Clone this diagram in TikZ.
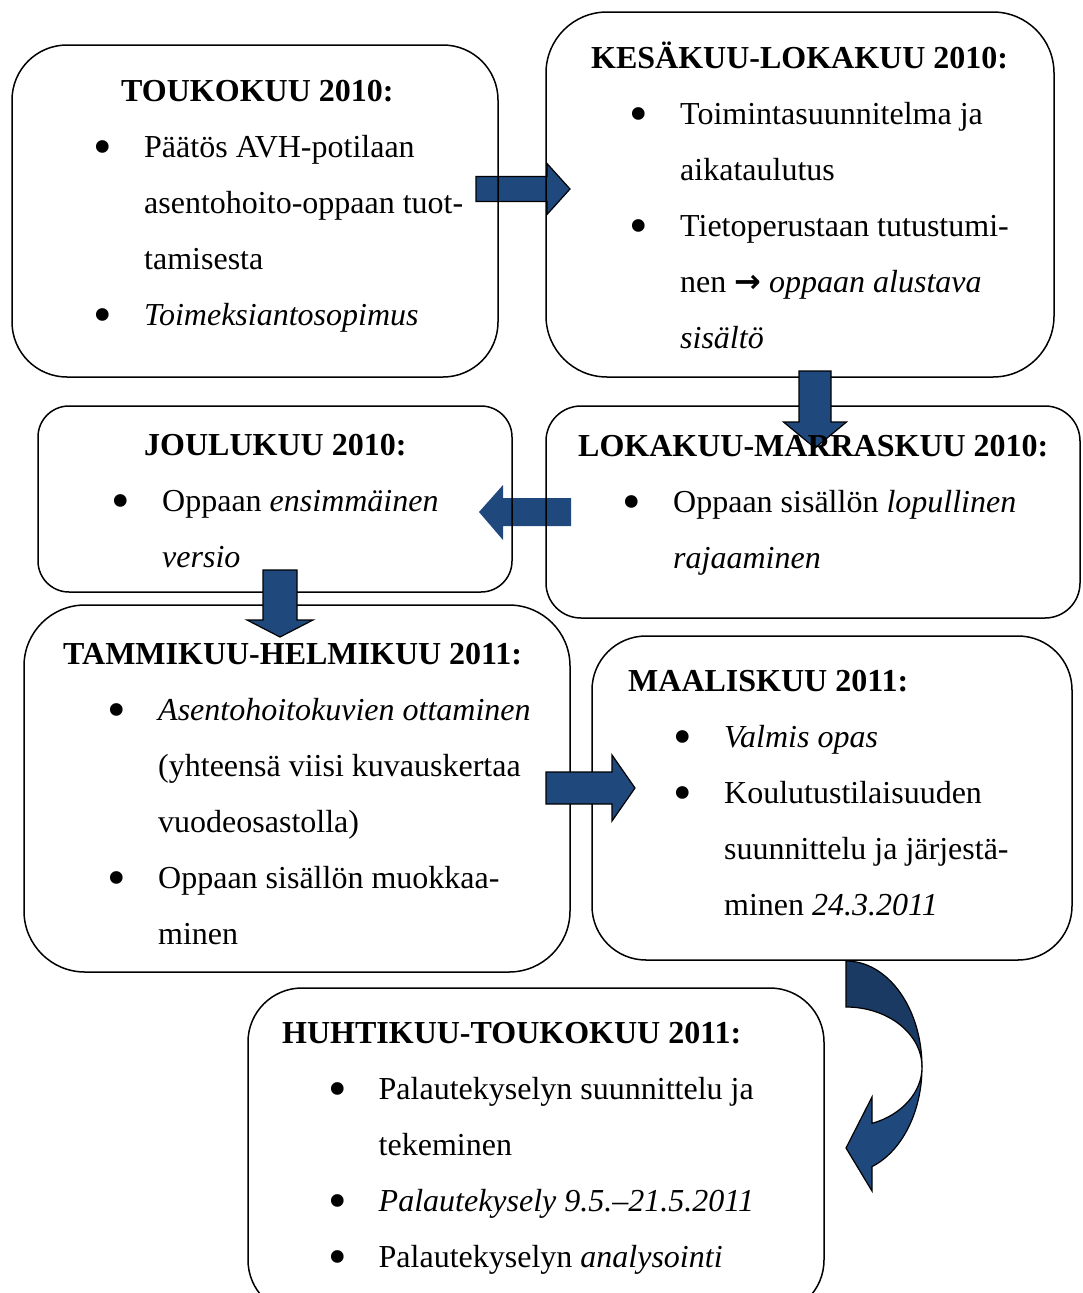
\documentclass[tikz,border=0pt]{standalone}
\usepackage{fontspec}
\setmainfont{Liberation Serif}
\newfontfamily\arrowfont{DejaVu Sans}
\usepackage{tikz}
\usetikzlibrary{calc}
\definecolor{blockblue}{HTML}{1F497D}
\definecolor{blockdark}{HTML}{1B3A63}
\newlength{\lineind}
\newcommand{\bul}{\hspace*{\lineind}\llap{\raisebox{-6.8pt}{\fontsize{53}{53}\selectfont\textbullet}\hspace{31.8pt}}}
\newcommand{\cnt}{\hspace*{\lineind}}

\begin{document}
\begin{tikzpicture}[x=1pt,y=1pt,
        box/.style={draw=black,line width=1.5pt,outer sep=0pt},
        txt/.style={anchor=north west,align=left,font=\fontsize{32}{56}\selectfont},
        ind/.code={\setlength{\lineind}{#1}},
        blockarrow/.style={draw=black,line width=1.2pt,fill=blockblue,line join=miter}]
                \tikzstyle{every node}+=[inner sep=0pt]
                \useasboundingbox (0,0) rectangle (1082,-1293);
                \draw [blockarrow] (476,-176.5) -- (547,-176.5) -- (547,-163.5) -- (570,-189) -- (547,-214.5) -- (547,-201.5) -- (476,-201.5) -- cycle;
                \fill [blockblue] (571,-498) -- (503,-498) -- (503,-485) -- (479,-512) -- (503,-540) -- (503,-526) -- (571,-526) -- cycle;
                \node (toukokuu) [box, minimum width=486pt, minimum height=332pt, rounded corners=55pt] at (255,-211) {};
                \node (kesakuu) [box, minimum width=508pt, minimum height=365pt, rounded corners=61pt] at (800,-194.5) {};
                \node (joulukuu) [box, minimum width=474pt, minimum height=186pt, rounded corners=31pt] at (275,-499) {};
                \node (lokakuu) [box, minimum width=534pt, minimum height=212pt, rounded corners=35pt] at (813,-512) {};
                \node (tammikuu) [box, minimum width=546pt, minimum height=367pt, rounded corners=61pt] at (297,-788.5) {};
                \node (maaliskuu) [box, minimum width=480pt, minimum height=324pt, rounded corners=54pt] at (832,-798) {};
                \node (huhtikuu) [box, minimum width=576pt, minimum height=326pt, rounded corners=54pt] at (536,-1151) {};
                \draw [blockarrow] (799,-371) -- (831,-371) -- (831,-422) -- (846.5,-422) -- (815,-448) -- (783.5,-422) -- (799,-422) -- cycle;
                \draw [blockarrow] (263,-570) -- (297,-570) -- (297,-620) -- (313,-620) -- (280,-637) -- (247,-620) -- (263,-620) -- cycle;
                \draw [blockarrow] (546,-772) -- (612,-772) -- (612,-755) -- (635,-788) -- (612,-821) -- (612,-804) -- (546,-804) -- cycle;
                \draw [blockarrow, fill=blockdark] (846,-961) arc[start angle=90, end angle=0, x radius=76, y radius=106] arc[start angle=0, end angle=90, x radius=76, y radius=60] -- cycle;
                \draw [blockarrow] (922,-1067) arc[start angle=0, end angle=-70, x radius=76, y radius=106] -- (872,-1191) -- (846,-1148) -- (872,-1097) -- (872,-1123.4) arc[start angle=-70, end angle=0, x radius=76, y radius=60] -- cycle;
                \node (toukokuutxt) [txt, ind=23pt] at (121,-62.5) {\strut\textbf{TOUKOKUU 2010:}\\
                    \bul Päätös AVH-potilaan\\
                    \cnt asentohoito-oppaan tuot-\\
                    \cnt tamisesta\\
                    \bul\textit{Toimeksiantosopimus}};
                \node (kesakuutxt) [txt, ind=89pt] at (591,-29.1) {\strut\textbf{KESÄKUU-LOKAKUU 2010:}\\
                    \bul Toimintasuunnitelma ja\\
                    \cnt aikataulutus\\
                    \bul Tietoperustaan tutustumi-\\
                    \cnt nen {\arrowfont\bfseries →} \textit{oppaan alustava}\\
                    \cnt\textit{sisältö}};
                \node (joulukuutxt) [txt, ind=18pt] at (144,-416.5) {\strut\textbf{JOULUKUU 2010:}\\
                    \bul Oppaan \textit{ensimmäinen}\\
                    \cnt\textit{versio}};
                \node (lokakuutxt) [txt, ind=95pt] at (578,-416.8) {\strut\textbf{LOKAKUU-MARRASKUU 2010:}\\
                    \bul Oppaan sisällön \textit{lopullinen}\\
                    \cnt\textit{rajaaminen}};
                \node (tammikuutxt) [txt, ind=95pt] at (63,-624.8) {\strut\textbf{TAMMIKUU-HELMIKUU 2011:}\\
                    \bul\textit{Asentohoitokuvien ottaminen}\\
                    \cnt (yhteensä viisi kuvauskertaa\\
                    \cnt vuodeosastolla)\\
                    \bul Oppaan sisällön muokkaa-\\
                    \cnt minen};
                \node (maaliskuutxt) [txt, ind=96pt] at (628,-652.5) {\strut\textbf{MAALISKUU 2011:}\\
                    \bul\textit{Valmis opas}\\
                    \bul Koulutustilaisuuden\\
                    \cnt suunnittelu ja järjestä-\\
                    \cnt minen \textit{24.3.2011}};
                \node (huhtikuutxt) [txt, ind=96.5pt] at (282,-1004.1) {\strut\textbf{HUHTIKUU-TOUKOKUU 2011:}\\
                    \bul Palautekyselyn suunnittelu ja\\
                    \cnt tekeminen\\
                    \bul\textit{Palautekysely 9.5.–21.5.2011}\\
                    \bul Palautekyselyn \textit{analysointi}};
\end{tikzpicture}
\end{document}
